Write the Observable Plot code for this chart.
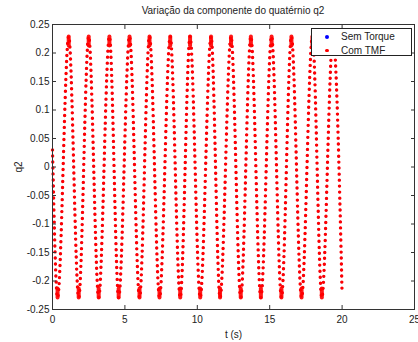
<!DOCTYPE html>
<html><head><meta charset="utf-8">
<script src="https://cdn.jsdelivr.net/npm/d3@7"></script>
<script src="https://cdn.jsdelivr.net/npm/@observablehq/plot@0.6"></script>
<style>
body{margin:0;background:#fff;}
#wrap{position:relative;width:418px;height:342px;font-family:"Liberation Sans",Arial,sans-serif;color:#222;}
#title{position:absolute;top:5px;left:52px;width:362px;text-align:center;font-size:10px;line-height:12px;}
#legend{position:absolute;left:311px;top:28px;width:99px;height:26px;border:1px solid #222;background:#fff;font-size:10px;line-height:13px;}
.row{position:absolute;left:0;height:13px;width:99px;}
.sw{position:absolute;left:13px;top:5px;width:3.5px;height:3.5px;border-radius:2px;}
.lb{position:absolute;left:29px;top:0;}
</style></head>
<body>
<div id="wrap">
  <div id="chart"></div>
  <div id="title"></div>
  <div id="legend"></div>
</div>
<script>
// Data: extrema of q2 over time (s)
const title = "Variação da componente do quatérnio q2";
const seriesNames = ["Sem Torque", "Com TMF"];
const seriesColors = ["#0000ff", "#ff0000"];
const tTimes = [0, 0.35, 1.12, 1.81, 2.5, 3.19, 3.93, 4.57, 5.32, 6.01, 6.70, 7.39, 8.13, 8.82, 9.50, 10.2, 10.95, 11.57, 12.33, 13.0, 13.7, 14.39, 15.13, 15.81, 16.5, 17.2, 17.95, 18.6, 19.37, 20.0];
// The blue series is completely hidden under the red one in the picture
const semTorqueQ2 = [0.03, -0.229, 0.229, -0.229, 0.229, -0.229, 0.229, -0.229, 0.229, -0.229, 0.229, -0.229, 0.229, -0.229, 0.229, -0.229, 0.229, -0.229, 0.229, -0.229, 0.229, -0.229, 0.229, -0.229, 0.229, -0.229, 0.229, -0.229, 0.229, -0.222];
const comTmfQ2 = [0.03, -0.229, 0.229, -0.229, 0.229, -0.229, 0.229, -0.229, 0.229, -0.229, 0.229, -0.229, 0.229, -0.229, 0.229, -0.229, 0.229, -0.229, 0.229, -0.229, 0.229, -0.229, 0.229, -0.229, 0.229, -0.229, 0.229, -0.229, 0.229, -0.222];
const xTicks = [0, 5, 10, 15, 20, 25];
const yTicks = [-0.25, -0.2, -0.15, -0.1, -0.05, 0, 0.05, 0.1, 0.15, 0.2, 0.25];
const xLabel = "t (s)";
const yLabel = "q2";

const sem = tTimes.map((t, i) => ({t, q: semTorqueQ2[i]}));
const tmf = tTimes.map((t, i) => ({t, q: comTmfQ2[i]}));
// extrema (where samples crowd together) get a dense blob
const tmfExt = tmf.slice(1, -1);

const blob = {draw(context, l) { context.moveTo(0, 0); context.lineTo(0, -l); }};

const plot = Plot.plot({
  width: 418, height: 342,
  marginLeft: 52, marginRight: 4, marginTop: 24, marginBottom: 33,
  style: {fontFamily: "'Liberation Sans', Arial, sans-serif", fontSize: "10px", color: "#222", background: "#fff"},
  x: {domain: [0, 25]},
  y: {domain: [-0.25, 0.25]},
  marks: [
    Plot.line(sem, {x: "t", y: "q", curve: "monotone-x", stroke: seriesColors[0], strokeWidth: 2.4, strokeDasharray: "0 6", strokeLinecap: "round"}),
    Plot.line(tmf, {x: "t", y: "q", curve: "monotone-x", stroke: seriesColors[1], strokeWidth: 3.4, strokeDasharray: "0 6", strokeLinecap: "round"}),
    Plot.vector(tmfExt, {x: "t", y: "q", anchor: "start", length: 9, rotate: d => d.q > 0 ? 180 : 0, shape: blob, stroke: seriesColors[1], strokeWidth: 4, strokeLinecap: "round", strokeOpacity: 0.9}),
    Plot.frame({stroke: "#333"}),
    Plot.axisX(xTicks, {anchor: "bottom", tickSize: -4, tickPadding: 10, tickFormat: d => String(d), label: xLabel, labelAnchor: "center", labelArrow: "none", labelOffset: 28, stroke: "#333"}),
    Plot.axisX(xTicks, {anchor: "top", tickSize: -4, tickFormat: () => "", label: null, stroke: "#333"}),
    Plot.axisY(yTicks, {anchor: "left", tickSize: -4, tickPadding: 7, tickFormat: d => String(d), label: yLabel, labelAnchor: "center", labelArrow: "none", labelOffset: 38, stroke: "#333"}),
    Plot.axisY(yTicks, {anchor: "right", tickSize: -4, tickFormat: () => "", label: null, stroke: "#333"})
  ]
});
document.getElementById("chart").appendChild(plot);
document.getElementById("title").textContent = title;
const leg = document.getElementById("legend");
seriesNames.forEach((n, i) => {
  const r = document.createElement("div");
  r.className = "row"; r.style.top = (1 + i * 13.5) + "px";
  r.innerHTML = `<span class="sw" style="background:${seriesColors[i]}"></span><span class="lb"></span>`;
  r.querySelector(".lb").textContent = n;
  leg.appendChild(r);
});
</script>
</body></html>
